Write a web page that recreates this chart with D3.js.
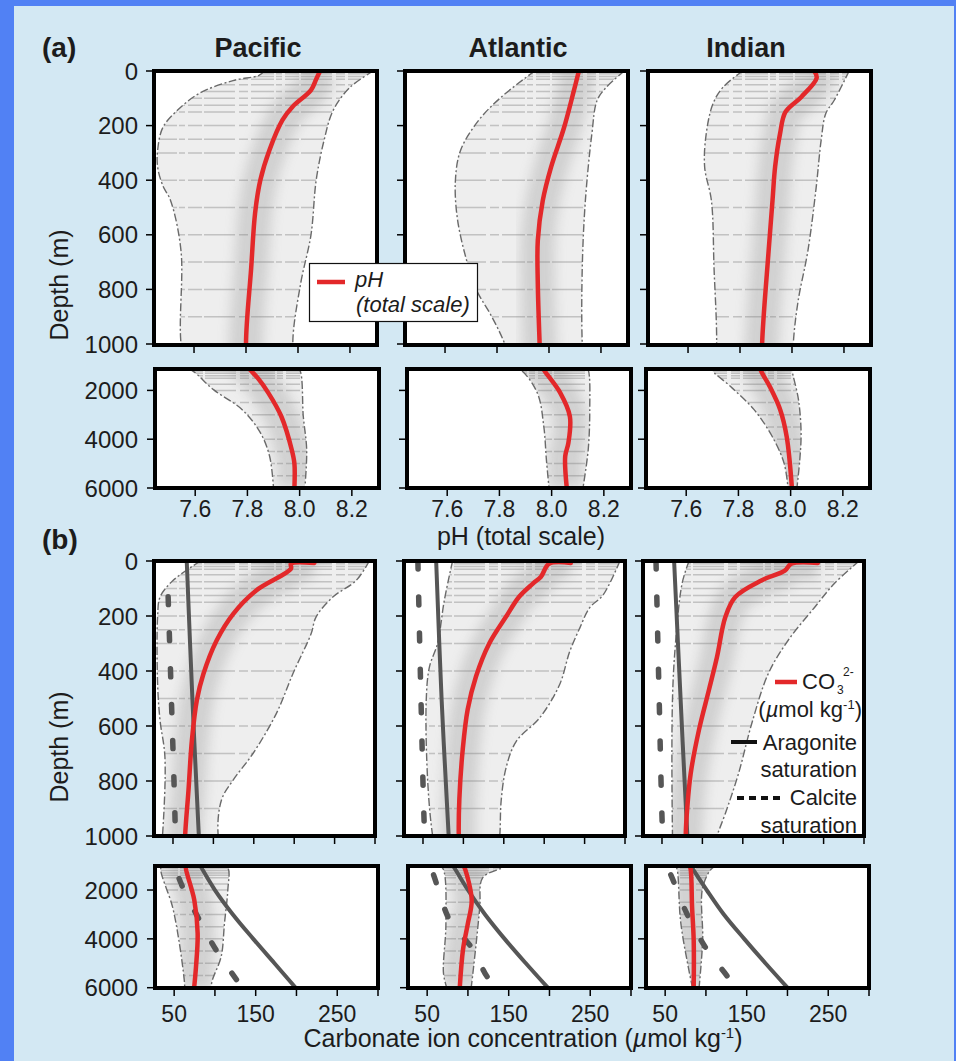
<!DOCTYPE html>
<html>
<head>
<meta charset="utf-8">
<script src="https://cdn.jsdelivr.net/npm/d3@7"></script>
<style>
body { margin: 0; background: #5181f4; }
svg { display: block; }
text { font-family: "Liberation Sans", Arial, Helvetica, sans-serif; fill: #1c1c1c; }
</style>
</head>
<body>
<div id="chart"></div>
<script>
// ---- data : [depth (m), value] ----
var oceans = ["Pacific", "Atlantic", "Indian"];
var depthTicks = [0, 200, 400, 600, 800, 1000];
var deepTicks = [2000, 4000, 6000];
var phTicks = [7.6, 7.8, 8.0, 8.2];
var co3Ticks = [50, 100, 150, 200, 250, 300];
var co3Labels = [50, 150, 250];
var standardDepths = [0, 10, 20, 30, 50, 75, 100, 125, 150, 200, 250, 300, 400, 500, 600, 700, 800, 900,
  1000, 1100, 1200, 1300, 1400, 1500, 1750, 2000, 2500, 3000, 3500, 4000, 4500, 5000, 5500];

// pH (total scale)
var pacificPH = [[0,8.085],[30,8.07],[70,8.05],[130,7.98],[180,7.94],[290,7.89],[400,7.855],[520,7.835],[720,7.82],[1000,7.80],[1150,7.81],[1500,7.84],[2100,7.88],[3070,7.93],[4440,7.97],[5000,7.98],[6000,7.98]];
var pacificPHMin = [[0,7.87],[16,7.85],[35,7.75],[82,7.62],[145,7.535],[207,7.48],[290,7.46],[352,7.46],[420,7.48],[475,7.51],[660,7.55],[1000,7.55],[1200,7.59],[1970,7.67],[2790,7.78],[3740,7.85],[4700,7.885],[6000,7.90]];
var pacificPHMax = [[0,8.29],[60,8.20],[145,8.135],[255,8.10],[400,8.07],[600,8.05],[780,8.01],[1000,7.98],[1150,8.0],[3070,8.014],[4440,8.027],[6000,8.02]];

var atlanticPH = [[0,8.115],[71,8.096],[207,8.058],[352,8.008],[475,7.976],[620,7.957],[780,7.957],[1000,7.964],[1150,7.97],[2100,8.033],[3070,8.07],[4160,8.064],[4700,8.052],[6000,8.058]];
var atlanticPHMin = [[0,7.945],[95,7.817],[180,7.73],[290,7.66],[400,7.64],[537,7.647],[683,7.68],[800,7.72],[900,7.78],[1000,7.83],[1150,7.88],[2100,7.945],[3480,7.97],[4850,7.98],[6000,7.99]];
var atlanticPHMax = [[0,8.29],[60,8.22],[108,8.185],[230,8.165],[475,8.14],[720,8.128],[1000,8.128],[1150,8.14],[2790,8.146],[4440,8.14],[6000,8.12]];

var indianPH = [[0,8.085],[25,8.095],[95,8.036],[150,7.975],[230,7.954],[352,7.935],[475,7.925],[660,7.91],[1000,7.885],[1150,7.885],[1840,7.92],[2790,7.96],[3900,7.985],[6000,8.005]];
var indianPHMin = [[0,7.81],[60,7.734],[120,7.696],[230,7.67],[352,7.664],[475,7.69],[720,7.70],[1000,7.71],[1150,7.70],[1840,7.77],[2790,7.86],[3900,7.93],[4990,7.975],[6000,7.99]];
var indianPHMax = [[0,8.22],[108,8.162],[156,8.13],[255,8.112],[427,8.093],[660,8.061],[840,8.024],[1000,8.005],[1150,8.005],[2380,8.03],[3740,8.04],[4850,8.035],[6000,8.024]];

// carbonate ion (umol/kg)
var pacificCO3 = [[7,225],[10,196],[28,196],[107,153],[192,124.6],[289,104],[410,87.7],[505,79.6],[652,73.4],[833,69.2],[1000,65],[1110,64.4],[2410,74.7],[3770,78.8],[5140,76.8],[6000,74.5]];
var pacificCO3Min = [[0,84],[71,50],[131,34],[200,31],[450,31],[580,34],[712,40],[1000,37],[1100,33.6],[2690,48],[4100,56],[5660,62.3],[6000,63]];
var pacificCO3Max = [[0,293],[71,276.6],[131,247.8],[204,227],[264,221],[409,198.5],[554,178],[700,149],[796,124.6],[869,110],[1000,106],[1100,115.8],[2000,115.8],[3360,111.7],[4730,107.6],[5670,97],[6000,95]];
var pacificArag = [[0,67],[500,74],[1000,82],[2000,100],[3000,122],[4000,147],[5000,173],[6000,199]];
var pacificCalc = [[130,44],[500,48],[1000,53],[1310,54],[2000,62],[3230,81],[4460,101.5],[5830,130],[6000,134]];

var atlanticCO3 = [[7,233],[10,206],[57,196],[82,186],[130,169],[203,152.7],[300,132],[420,115.6],[540,105.3],[685,99.2],[866,95],[1000,94.3],[1100,96],[2410,104.6],[3360,100],[4430,94],[6000,90]];
var atlanticCO3Min = [[0,86.6],[143,76.4],[300,68],[385,58],[507,54],[810,56],[1000,62],[1100,69],[3360,73],[5400,70],[6000,74]];
var atlanticCO3Max = [[0,293.7],[123,273],[171,256],[244,244],[329,231.6],[450,219],[570,194.5],[655,165.6],[750,153],[870,146.8],[1000,145],[1100,141],[1500,118],[2690,114.6],[4060,110.5],[5430,106],[6000,104]];
var atlanticArag = [[0,66.3],[500,73],[1000,81.8],[2000,100],[3000,121],[4000,145],[5000,171],[6000,198]];
var atlanticCalc = [[0,43.7],[500,47.5],[1000,52],[1310,57],[2000,64],[3230,77.5],[4430,106],[5520,123],[6000,136]];

var indianCO3 = [[7,243],[10,210],[35,202],[71,173],[131,140.7],[204,128.4],[350,118],[470,108],[615,95.7],[773,85.5],[893,81.4],[1000,79.4],[1100,81],[2690,83],[4060,85],[6000,85]];
var indianCO3Min = [[0,83.5],[80,75],[289,67],[500,63],[1000,63],[1200,65],[3300,69],[5350,79.5],[6000,83.5]];
var indianCO3Max = [[0,294],[83,263],[168,239],[289,206],[410,181.5],[592,161],[773,144.7],[918,128.4],[1000,118],[1100,108],[1900,96],[4060,96],[6000,91.6]];
var indianArag = [[0,65],[500,73],[1000,81.4],[2000,101],[3000,122],[4000,147],[5000,173],[6000,200]];
var indianCalc = [[0,42.6],[500,46.5],[1000,50.8],[1310,56],[2960,76.5],[4430,101],[5520,126],[6000,136]];

var phData = {
  Pacific: { mid: pacificPH, lo: pacificPHMin, hi: pacificPHMax },
  Atlantic: { mid: atlanticPH, lo: atlanticPHMin, hi: atlanticPHMax },
  Indian: { mid: indianPH, lo: indianPHMin, hi: indianPHMax }
};
var co3Data = {
  Pacific: { mid: pacificCO3, lo: pacificCO3Min, hi: pacificCO3Max, arag: pacificArag, calc: pacificCalc },
  Atlantic: { mid: atlanticCO3, lo: atlanticCO3Min, hi: atlanticCO3Max, arag: atlanticArag, calc: atlanticCalc },
  Indian: { mid: indianCO3, lo: indianCO3Min, hi: indianCO3Max, arag: indianArag, calc: indianCalc }
};

// ---- layout ----
var W = 956, H = 1061;
var RED = "#e3282a", DARK = "#565656";

var rows = [
  { ydom: [0, 1000], yr: [71, 344], top: 71, bottom: 345, lefts: [154, 405, 648], width: 223,
    xdom: [7.446, 8.304], yticks: depthTicks, xticks: phTicks, data: phData },
  { ydom: [1000, 6000], yr: [366, 488], top: 369, bottom: 488, lefts: [155, 407, 646], width: 224,
    xdom: [7.446, 8.304], yticks: deepTicks, xticks: phTicks, xlabels: phTicks, labelY: 516.5, fmt: d3.format(".1f"), data: phData },
  { ydom: [0, 1000], yr: [561, 836], top: 561, bottom: 836, lefts: [154, 404, 643], width: 221,
    xdom: [26.5, 300], yticks: depthTicks, xticks: co3Ticks, data: co3Data },
  { ydom: [1000, 6000], yr: [865.6, 987.7], top: 866, bottom: 988, lefts: [155, 408, 646], width: 223,
    xdom: [26.5, 300], yticks: deepTicks, xticks: co3Ticks, xlabels: co3Labels, labelY: 1021.5, fmt: d3.format("d"), data: co3Data }
];

var svg = d3.select("#chart").append("svg").attr("width", W).attr("height", H);
var defs = svg.append("defs");
defs.append("filter").attr("id", "blur").attr("x", "-50%").attr("y", "-50%").attr("width", "200%").attr("height", "200%")
  .append("feGaussianBlur").attr("stdDeviation", 6);

svg.append("rect").attr("width", W).attr("height", H).attr("fill", "#5181f4");
svg.append("rect").attr("x", 14).attr("y", 6).attr("width", 940).attr("height", H - 6).attr("fill", "#d3e8f3");

var clipCount = 0;

function drawPanel(row, ci) {
  var ocean = oceans[ci];
  var series = row.data[ocean];
  var left = row.lefts[ci], w = row.width;
  var x = d3.scaleLinear().domain(row.xdom).range([left, left + w]);
  var y = d3.scaleLinear().domain(row.ydom).range(row.yr);
  var line = d3.line().x(function (d) { return x(d[1]); }).y(function (d) { return y(d[0]); })
    .curve(d3.curveCatmullRom);

  var pid = "p" + (clipCount++);
  defs.append("clipPath").attr("id", pid).append("rect")
    .attr("x", left).attr("y", row.top).attr("width", w).attr("height", row.bottom - row.top);

  var envD = line(series.lo) + "L" + line(series.hi.slice().reverse()).slice(1) + "Z";
  var eid = "e" + (clipCount++);
  defs.append("clipPath").attr("id", eid).append("path").attr("d", envD);

  var g = svg.append("g").attr("clip-path", "url(#" + pid + ")");
  g.append("rect").attr("x", left).attr("y", row.top).attr("width", w).attr("height", row.bottom - row.top)
    .attr("fill", "#fff");

  // envelope of all profiles
  g.append("path").attr("d", envD).attr("fill", "#eeeeee");
  var eg = g.append("g").attr("clip-path", "url(#" + eid + ")");
  eg.append("path").attr("d", line(series.mid)).attr("fill", "none")
    .attr("stroke", "#9c9c9c").attr("stroke-width", 34).attr("opacity", 0.35).attr("filter", "url(#blur)");
  eg.selectAll("line.streak")
    .data(standardDepths.filter(function (d) { return d >= row.ydom[0] && d <= row.ydom[1]; }))
    .enter().append("line")
    .attr("x1", left).attr("x2", left + w)
    .attr("y1", function (d) { return y(d); }).attr("y2", function (d) { return y(d); })
    .attr("stroke", "#808080").attr("stroke-width", 1.5).attr("opacity", 0.4)
    .attr("stroke-dasharray", "23,2,6,3,14,2,31,4,9,3");

  [series.lo, series.hi].forEach(function (b) {
    g.append("path").attr("d", line(b)).attr("fill", "none")
      .attr("stroke", "#6a6a6a").attr("stroke-width", 1.4).attr("stroke-dasharray", "8,2.5,2,2.5");
  });

  if (series.calc) {
    g.append("path").attr("d", line(series.calc)).attr("fill", "none")
      .attr("stroke", DARK).attr("stroke-width", 5.5).attr("stroke-linecap", "round")
      .attr("stroke-dasharray", "8,28");
    g.append("path").attr("d", line(series.arag)).attr("fill", "none")
      .attr("stroke", DARK).attr("stroke-width", 4);
  }

  g.append("path").attr("d", line(series.mid)).attr("fill", "none")
    .attr("stroke", RED).attr("stroke-width", 4.5).attr("stroke-linecap", "round");

  // frame
  svg.append("rect").attr("x", left).attr("y", row.top).attr("width", w).attr("height", row.bottom - row.top)
    .attr("fill", "none").attr("stroke", "#000").attr("stroke-width", 4);

  // ticks
  svg.append("g").selectAll("line").data(row.yticks).enter().append("line")
    .attr("x1", left - 2).attr("x2", left - 8)
    .attr("y1", function (d) { return y(d); }).attr("y2", function (d) { return y(d); })
    .attr("stroke", "#000").attr("stroke-width", 1.5);
  svg.append("g").selectAll("line").data(row.xticks).enter().append("line")
    .attr("x1", function (d) { return x(d); }).attr("x2", function (d) { return x(d); })
    .attr("y1", row.bottom + 2).attr("y2", row.bottom + 8)
    .attr("stroke", "#000").attr("stroke-width", 1.5);

  if (ci === 0) {
    svg.append("g").selectAll("text").data(row.yticks).enter().append("text")
      .attr("x", 138).attr("y", function (d) { return y(d); }).attr("dy", "0.36em")
      .attr("text-anchor", "end").attr("font-size", 24)
      .text(function (d) { return d; });
  }
  if (row.xlabels) {
    svg.append("g").selectAll("text").data(row.xlabels).enter().append("text")
      .attr("x", function (d) { return x(d); }).attr("y", row.labelY)
      .attr("text-anchor", "middle").attr("font-size", 23)
      .text(row.fmt);
  }
}

rows.forEach(function (row) {
  oceans.forEach(function (o, ci) { drawPanel(row, ci); });
});

// titles and labels
var titleX = [258, 518, 746];
svg.selectAll("text.title").data(oceans).enter().append("text")
  .attr("x", function (d, i) { return titleX[i]; }).attr("y", 57)
  .attr("text-anchor", "middle").attr("font-size", 27).attr("font-weight", "bold")
  .text(function (d) { return d; });
svg.append("text").attr("x", 42).attr("y", 57).attr("font-size", 28).attr("font-weight", "bold").text("(a)");
svg.append("text").attr("x", 42).attr("y", 549).attr("font-size", 28).attr("font-weight", "bold").text("(b)");

[285, 747].forEach(function (cy) {
  svg.append("text").attr("transform", "translate(68," + cy + ") rotate(-90)")
    .attr("text-anchor", "middle").attr("font-size", 25).text("Depth (m)");
});

svg.append("text").attr("x", 521).attr("y", 545).attr("text-anchor", "middle").attr("font-size", 25)
  .text("pH (total scale)");
var xl = svg.append("text").attr("x", 523).attr("y", 1047).attr("text-anchor", "middle").attr("font-size", 25);
xl.append("tspan").text("Carbonate ion concentration (");
xl.append("tspan").attr("font-style", "italic").text("\u00b5");
xl.append("tspan").text("mol kg");
xl.append("tspan").attr("font-size", 15).attr("dy", -9).text("-1");
xl.append("tspan").attr("dy", 9).text(")");

// pH legend
var lg = svg.append("g");
lg.append("rect").attr("x", 309.5).attr("y", 263.5).attr("width", 168).attr("height", 58)
  .attr("fill", "#fff").attr("stroke", "#111").attr("stroke-width", 1.2);
lg.append("line").attr("x1", 317).attr("x2", 345).attr("y1", 282).attr("y2", 282)
  .attr("stroke", RED).attr("stroke-width", 4.5);
lg.append("text").attr("x", 355).attr("y", 287).attr("font-size", 22).attr("font-style", "italic").text("pH");
lg.append("text").attr("x", 356).attr("y", 312).attr("font-size", 22).attr("font-style", "italic").text("(total scale)");

// carbonate legend
var cg = svg.append("g");
cg.append("line").attr("x1", 775).attr("x2", 797).attr("y1", 682).attr("y2", 682)
  .attr("stroke", RED).attr("stroke-width", 4.5);
cg.append("text").attr("x", 802).attr("y", 689).attr("font-size", 22).text("CO");
cg.append("text").attr("x", 837).attr("y", 694).attr("font-size", 12).text("3");
cg.append("text").attr("x", 843).attr("y", 676).attr("font-size", 12).text("2-");
var cu = cg.append("text").attr("x", 862).attr("y", 717).attr("text-anchor", "end").attr("font-size", 22);
cu.append("tspan").text("(");
cu.append("tspan").attr("font-style", "italic").text("\u00b5");
cu.append("tspan").text("mol kg");
cu.append("tspan").attr("font-size", 13).attr("dy", -8).text("-1");
cu.append("tspan").attr("dy", 8).text(")");

cg.append("line").attr("x1", 731).attr("x2", 757).attr("y1", 742).attr("y2", 742)
  .attr("stroke", "#111").attr("stroke-width", 4);
cg.append("text").attr("x", 857).attr("y", 750).attr("text-anchor", "end").attr("font-size", 22).text("Aragonite");
cg.append("text").attr("x", 857).attr("y", 777).attr("text-anchor", "end").attr("font-size", 22).text("saturation");
cg.append("line").attr("x1", 737).attr("x2", 784).attr("y1", 798).attr("y2", 798)
  .attr("stroke", "#111").attr("stroke-width", 4).attr("stroke-dasharray", "7,5");
cg.append("text").attr("x", 857).attr("y", 805).attr("text-anchor", "end").attr("font-size", 22).text("Calcite");
cg.append("text").attr("x", 857).attr("y", 833).attr("text-anchor", "end").attr("font-size", 22).text("saturation");
</script>
</body>
</html>
